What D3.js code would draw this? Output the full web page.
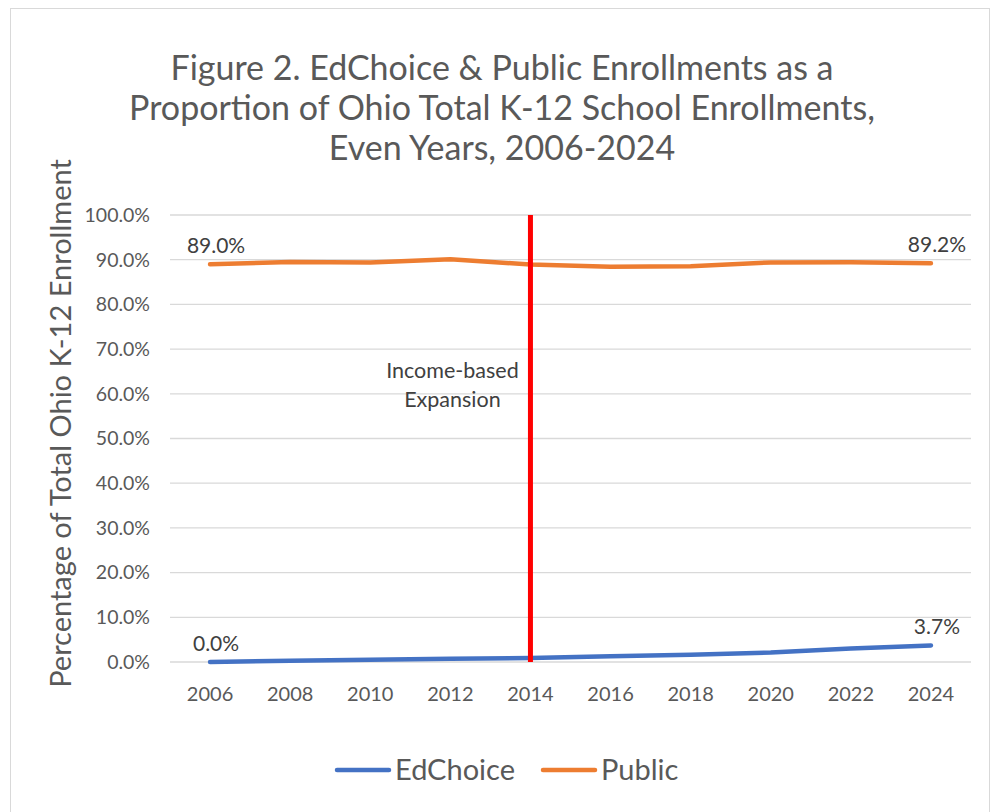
<!DOCTYPE html>
<html lang="en">
<head>
<meta charset="UTF-8">
<title>EdChoice & Public Enrollments</title>
<script src="https://d3js.org/d3.v7.min.js"></script>
<style>
  body { margin: 0; background: #fff; }
  text { font-family: Lato, "Open Sans", sans-serif; }
</style>
</head>
<body>
<div id="chart"></div>
<script>
// data
const years = ["2006", "2008", "2010", "2012", "2014", "2016", "2018", "2020", "2022", "2024"];
const edchoice = [0.0, 0.3, 0.5, 0.7, 0.9, 1.3, 1.6, 2.1, 3.0, 3.7];
const publicShare = [89.0, 89.5, 89.4, 90.1, 88.9, 88.4, 88.55, 89.4, 89.45, 89.2];
const yTicks = [0, 10, 20, 30, 40, 50, 60, 70, 80, 90, 100];
const titleLines = ["Figure 2. EdChoice & Public Enrollments as a",
                    "Proportion of Ohio Total K-12 School Enrollments,",
                    "Even Years, 2006-2024"];
const markerYear = "2014";
const markerText = ["Income-based", "Expansion"];

const W = 998, H = 812;
const plot = { left: 170, right: 971, top: 215, bottom: 662 };

const svg = d3.select("#chart").append("svg")
    .attr("width", W).attr("height", H);

// chart border
svg.append("rect")
    .attr("x", 10.5).attr("y", 8.5)
    .attr("width", 979).attr("height", 830)
    .attr("fill", "#fff").attr("stroke", "#d9d9d9");

const x = d3.scalePoint().domain(years)
    .range([plot.left, plot.right]).padding(0.5);
const y = d3.scaleLinear().domain([0, 100])
    .range([plot.bottom, plot.top]);

// title
svg.append("text")
    .attr("x", 502).attr("y", 80)
    .attr("text-anchor", "middle")
    .attr("font-size", "34px")
    .attr("fill", "#595959")
    .selectAll("tspan")
    .data(titleLines)
    .join("tspan")
    .attr("x", 502)
    .attr("dy", (d, i) => i === 0 ? 0 : 40)
    .text(d => d);

// gridlines
svg.append("g")
    .selectAll("line")
    .data(yTicks)
    .join("line")
    .attr("x1", plot.left).attr("x2", plot.right)
    .attr("y1", d => y(d)).attr("y2", d => y(d))
    .attr("stroke", "#d9d9d9").attr("stroke-width", 1.3);

// y tick labels
svg.append("g")
    .selectAll("text")
    .data(yTicks)
    .join("text")
    .attr("x", 150)
    .attr("y", d => y(d))
    .attr("dy", "0.35em")
    .attr("text-anchor", "end")
    .attr("font-size", "19.5px")
    .attr("fill", "#595959")
    .text(d => d3.format(".1f")(d) + "%");

// x tick labels
svg.append("g")
    .selectAll("text")
    .data(years)
    .join("text")
    .attr("x", d => x(d))
    .attr("y", 701)
    .attr("text-anchor", "middle")
    .attr("font-size", "20px")
    .attr("fill", "#595959")
    .text(d => d);

// y axis title
svg.append("text")
    .attr("transform", "translate(71," + ((plot.top + plot.bottom) / 2 - 15) + ") rotate(-90)")
    .attr("text-anchor", "middle")
    .attr("font-size", "29px")
    .attr("fill", "#595959")
    .text("Percentage of Total Ohio K-12 Enrollment");

const line = d3.line()
    .x((d, i) => x(years[i]))
    .y(d => y(d));

const series = [
    { name: "EdChoice", values: edchoice, color: "#4472C4" },
    { name: "Public", values: publicShare, color: "#ED7D31" }
];

series.forEach(s => {
    svg.append("path")
        .datum(s.values)
        .attr("d", line)
        .attr("fill", "none")
        .attr("stroke", s.color)
        .attr("stroke-width", 4.5)
        .attr("stroke-linecap", "round")
        .attr("stroke-linejoin", "round");

    // data labels on first and last point
    [0, s.values.length - 1].forEach(i => {
        svg.append("text")
            .attr("x", x(years[i]) + 6)
            .attr("y", y(s.values[i]) - 11)
            .attr("text-anchor", "middle")
            .attr("font-size", "21px")
            .attr("fill", "#404040")
            .text(d3.format(".1f")(s.values[i]) + "%");
    });
});

// marker line
svg.append("line")
    .attr("x1", x(markerYear)).attr("x2", x(markerYear))
    .attr("y1", y(100)).attr("y2", y(0))
    .attr("stroke", "#ff0000").attr("stroke-width", 5);

svg.append("text")
    .attr("font-size", "21.5px")
    .attr("fill", "#404040")
    .attr("text-anchor", "middle")
    .selectAll("tspan")
    .data(markerText)
    .join("tspan")
    .attr("x", x(markerYear) - 78)
    .attr("y", (d, i) => 378 + i * 29)
    .text(d => d);

// legend
const legend = svg.append("g");
let lx = 337;
series.forEach(s => {
    legend.append("line")
        .attr("x1", lx).attr("x2", lx + 52)
        .attr("y1", 770).attr("y2", 770)
        .attr("stroke", s.color).attr("stroke-width", 4.5)
        .attr("stroke-linecap", "round");
    const t = legend.append("text")
        .attr("x", lx + 58)
        .attr("y", 770)
        .attr("dy", "0.35em")
        .attr("font-size", "29px")
        .attr("fill", "#595959")
        .text(s.name);
    lx += 58 + t.node().getComputedTextLength() + 28;
});
</script>
</body>
</html>
